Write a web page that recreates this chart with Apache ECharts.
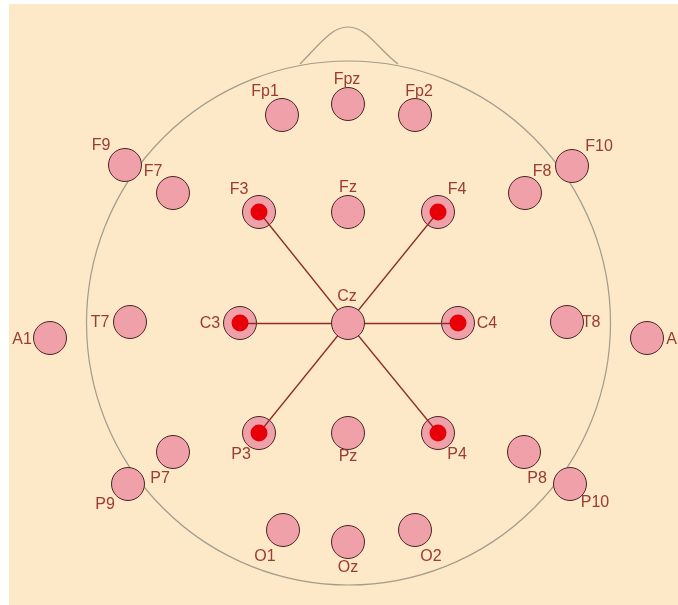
<!DOCTYPE html>
<html>
<head>
<meta charset="utf-8">
<script src="https://cdn.jsdelivr.net/npm/echarts@6/dist/echarts.min.js"></script>
<style>
  html, body { margin: 0; padding: 0; background: #ffffff; }
  #main { width: 678px; height: 605px; }
</style>
</head>
<body>
<div id="main"></div>
<script>
// electrode names and their positions on the scalp picture (pixel units of the plot)
const electrodes = ['Fp1', 'Fpz', 'Fp2', 'F9', 'F7', 'F3', 'Fz', 'F4', 'F8', 'F10',
  'A1', 'T7', 'C3', 'Cz', 'C4', 'T8', 'A2',
  'P9', 'P7', 'P3', 'Pz', 'P4', 'P8', 'P10', 'O1', 'Oz', 'O2'];
const posX = [282, 348, 415, 125, 173, 259, 348, 438, 525, 572,
  50, 130, 240, 348, 458, 567, 647,
  128, 173, 259, 348, 438, 524, 570, 283, 348, 415];
const posY = [115, 104, 115, 165, 193, 212, 212, 212, 193, 166,
  338, 322, 323, 323, 323, 322, 338,
  484, 452, 433, 433, 433, 452, 484, 530, 542, 530];
// electrodes linked to the hub
const hubElectrode = 'Cz';
const activeElectrodes = ['F3', 'F4', 'C3', 'C4', 'P3', 'P4'];

// head outline
const headCenter = [348.5, 323];
const headRadius = 262;

// where each label sits relative to its electrode
const labelOffset = {
  Fp1: [-17, -23], Fpz: [-1, -24], Fp2: [4, -23], F9: [-24, -19], F7: [-20, -21],
  F3: [-20, -22], Fz: [0, -24], F4: [19, -22], F8: [17, -21], F10: [27, -19],
  A1: [-28, 2], T7: [-30, 1], C3: [-30, 1], Cz: [-1, -26], C4: [29, 1], T8: [24, 1], A2: [29, 2],
  P9: [-23, 21], P7: [-13, 27], P3: [-18, 22], Pz: [0, 24], P4: [19, 22], P8: [13, 27], P10: [25, 19],
  O1: [-18, 27], Oz: [0, 26], O2: [16, 27]
};

const textColor = '#9c3b30';
const padFill = '#f0a0a8';
const padBorder = '#4a2626';

function pos(name) {
  const i = electrodes.indexOf(name);
  return [posX[i], posY[i]];
}

function padItem(name) {
  const off = labelOffset[name] || [0, -24];
  return {
    name: name,
    value: pos(name),
    label: { offset: off }
  };
}

const padLabel = {
  show: true,
  position: 'inside',
  formatter: '{b}',
  color: textColor,
  fontFamily: 'Liberation Sans',
  fontSize: 16,
  align: 'center',
  verticalAlign: 'middle'
};

var myChart = echarts.init(document.getElementById('main'));

var option = {
  backgroundColor: '#ffffff',
  animation: false,
  grid: {
    left: 9, top: 4, right: 0, bottom: 0,
    show: true, backgroundColor: '#fde8c8', borderWidth: 0
  },
  xAxis: { type: 'value', min: 9, max: 678, show: false },
  yAxis: { type: 'value', min: 4, max: 605, inverse: true, show: false },
  series: [
    {
      // head + nose
      type: 'custom',
      z: 1,
      silent: true,
      clip: false,
      data: [[headCenter[0], headCenter[1]]],
      renderItem: function (params, api) {
        const c = api.coord(headCenter);
        const r = api.size([headRadius, 0])[0];
        const p = function (x, y) { return api.coord([x, y]); };
        const a = p(300, 64), b1 = p(312, 52), b2 = p(318, 44), b3 = p(330, 34);
        const q1 = p(348, 20), q2 = p(366, 34);
        const d1 = p(378, 44), d2 = p(386, 55), d3 = p(398, 64);
        const nose = 'M' + a + ' C' + b1 + ' ' + b2 + ' ' + b3 +
          ' Q' + q1 + ' ' + q2 + ' C' + d1 + ' ' + d2 + ' ' + d3;
        return {
          type: 'group',
          children: [
            {
              type: 'circle',
              shape: { cx: c[0], cy: c[1], r: r },
              style: { fill: 'none', stroke: '#a39c8a', lineWidth: 1.2 }
            },
            {
              type: 'path',
              shape: { pathData: nose },
              style: { fill: 'none', stroke: '#a39c8a', lineWidth: 1.2 }
            }
          ]
        };
      }
    },
    {
      // electrodes
      type: 'scatter',
      z: 2,
      symbol: 'circle',
      symbolSize: 33,
      itemStyle: { color: padFill, borderColor: padBorder, borderWidth: 1, opacity: 1 },
      label: padLabel,
      data: electrodes.filter(function (n) { return n !== hubElectrode; }).map(padItem)
    },
    {
      // connections
      type: 'lines',
      coordinateSystem: 'cartesian2d',
      z: 3,
      silent: true,
      lineStyle: { color: '#8c2e24', width: 1.3, opacity: 1, curveness: 0 },
      data: activeElectrodes.map(function (n) {
        return { coords: [pos(hubElectrode), pos(n)] };
      })
    },
    {
      // hub electrode on top of the lines
      type: 'scatter',
      z: 4,
      symbol: 'circle',
      symbolSize: 33,
      itemStyle: { color: padFill, borderColor: padBorder, borderWidth: 1, opacity: 1 },
      label: padLabel,
      data: [padItem(hubElectrode)]
    },
    {
      // active markers
      type: 'scatter',
      z: 5,
      symbol: 'circle',
      symbolSize: 17,
      itemStyle: { color: '#e80008', opacity: 1 },
      data: activeElectrodes.map(pos)
    }
  ]
};

myChart.setOption(option);
</script>
</body>
</html>
